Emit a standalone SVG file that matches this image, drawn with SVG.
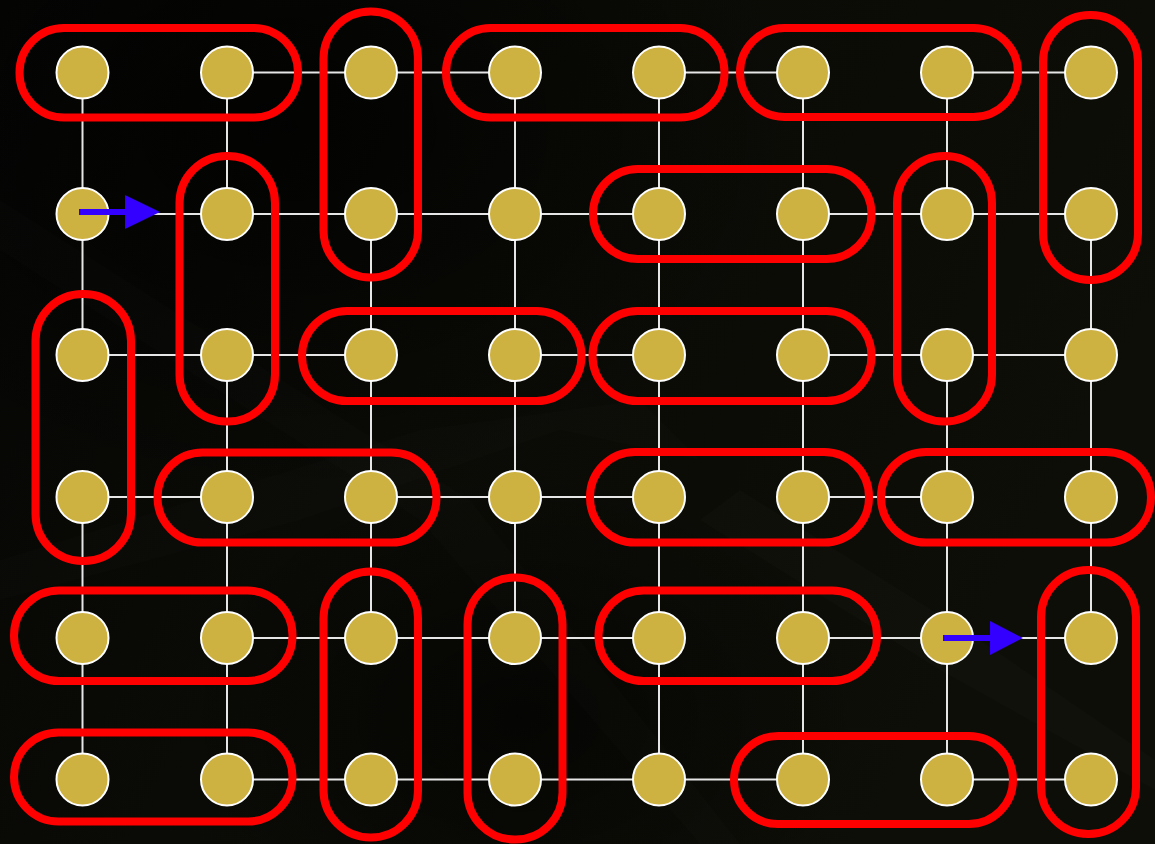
<svg xmlns="http://www.w3.org/2000/svg" width="1155" height="844" viewBox="0 0 1155 844">
<defs>
<linearGradient id="bg" x1="0" y1="0" x2="1" y2="0.4">
<stop offset="0" stop-color="#050504"/>
<stop offset="0.45" stop-color="#0a0a06"/>
<stop offset="1" stop-color="#0e0e08"/>
</linearGradient>
<radialGradient id="shade1" cx="0.25" cy="0.15" r="0.45">
<stop offset="0" stop-color="#000000" stop-opacity="0.7"/>
<stop offset="1" stop-color="#000000" stop-opacity="0"/>
</radialGradient>
<radialGradient id="shade2" cx="0.45" cy="0.85" r="0.3">
<stop offset="0" stop-color="#000000" stop-opacity="0.6"/>
<stop offset="1" stop-color="#000000" stop-opacity="0"/>
</radialGradient>
<style>
.edge{stroke:#e6e6e6;stroke-width:2;fill:none}
.node circle{fill:#cdb141;stroke:#ffffff;stroke-width:2}
.dom{fill:none;stroke:#ff0000;stroke-width:8}
.arr line{stroke:#3300ff;stroke-width:6}
.arr polygon{fill:#3300ff}
.streak{fill:#ffffff}
</style>
</defs>
<rect width="1155" height="844" fill="url(#bg)"/>
<g id="background-shading">
<rect width="1155" height="844" fill="url(#shade1)"/>
<rect width="1155" height="844" fill="url(#shade2)"/>
<polygon class="streak" opacity="0.012" points="0,200 0,250 420,520 700,844 740,844 470,500"/>
<polygon class="streak" opacity="0.012" points="0,560 0,600 300,520 560,430 700,460 640,400 420,430"/>
<polygon class="streak" opacity="0.015" points="700,520 740,490 980,640 1155,760 1155,790 940,670"/>
</g>
<g id="connectors">
<path class="edge" d="M227,72.5H371 M371,72.5H515 M659,72.5H803 M947,72.5H1091
M82.5,214H227 M227,214H371 M371,214H515 M515,214H659 M803,214H947 M947,214H1091
M82.5,355H227 M227,355H371 M515,355H659 M803,355H947 M947,355H1091
M82.5,497H227 M371,497H515 M515,497H659 M803,497H947
M227,638H371 M371,638H515 M515,638H659 M803,638H947 M947,638H1091
M227,779.5H371 M371,779.5H515 M515,779.5H659 M659,779.5H803 M947,779.5H1091
M82.5,72.5V214 M82.5,214V355 M82.5,497V638 M82.5,638V779.5
M227,72.5V214 M227,355V497 M227,497V638 M227,638V779.5
M371,214V355 M371,355V497 M371,497V638
M515,72.5V214 M515,214V355 M515,355V497 M515,497V638
M659,72.5V779.5
M803,72.5V779.5
M947,72.5V214 M947,355V497 M947,497V638 M947,638V779.5
M1091,214V355 M1091,355V497 M1091,497V638"/>
</g>
<g id="nodes">
<g id="n-0-0" class="node"><circle cx="82.5" cy="72.5" r="26"/></g>
<g id="n-0-1" class="node"><circle cx="227" cy="72.5" r="26"/></g>
<g id="n-0-2" class="node"><circle cx="371" cy="72.5" r="26"/></g>
<g id="n-0-3" class="node"><circle cx="515" cy="72.5" r="26"/></g>
<g id="n-0-4" class="node"><circle cx="659" cy="72.5" r="26"/></g>
<g id="n-0-5" class="node"><circle cx="803" cy="72.5" r="26"/></g>
<g id="n-0-6" class="node"><circle cx="947" cy="72.5" r="26"/></g>
<g id="n-0-7" class="node"><circle cx="1091" cy="72.5" r="26"/></g>
<g id="n-1-0" class="node"><circle cx="82.5" cy="214" r="26"/></g>
<g id="n-1-1" class="node"><circle cx="227" cy="214" r="26"/></g>
<g id="n-1-2" class="node"><circle cx="371" cy="214" r="26"/></g>
<g id="n-1-3" class="node"><circle cx="515" cy="214" r="26"/></g>
<g id="n-1-4" class="node"><circle cx="659" cy="214" r="26"/></g>
<g id="n-1-5" class="node"><circle cx="803" cy="214" r="26"/></g>
<g id="n-1-6" class="node"><circle cx="947" cy="214" r="26"/></g>
<g id="n-1-7" class="node"><circle cx="1091" cy="214" r="26"/></g>
<g id="n-2-0" class="node"><circle cx="82.5" cy="355" r="26"/></g>
<g id="n-2-1" class="node"><circle cx="227" cy="355" r="26"/></g>
<g id="n-2-2" class="node"><circle cx="371" cy="355" r="26"/></g>
<g id="n-2-3" class="node"><circle cx="515" cy="355" r="26"/></g>
<g id="n-2-4" class="node"><circle cx="659" cy="355" r="26"/></g>
<g id="n-2-5" class="node"><circle cx="803" cy="355" r="26"/></g>
<g id="n-2-6" class="node"><circle cx="947" cy="355" r="26"/></g>
<g id="n-2-7" class="node"><circle cx="1091" cy="355" r="26"/></g>
<g id="n-3-0" class="node"><circle cx="82.5" cy="497" r="26"/></g>
<g id="n-3-1" class="node"><circle cx="227" cy="497" r="26"/></g>
<g id="n-3-2" class="node"><circle cx="371" cy="497" r="26"/></g>
<g id="n-3-3" class="node"><circle cx="515" cy="497" r="26"/></g>
<g id="n-3-4" class="node"><circle cx="659" cy="497" r="26"/></g>
<g id="n-3-5" class="node"><circle cx="803" cy="497" r="26"/></g>
<g id="n-3-6" class="node"><circle cx="947" cy="497" r="26"/></g>
<g id="n-3-7" class="node"><circle cx="1091" cy="497" r="26"/></g>
<g id="n-4-0" class="node"><circle cx="82.5" cy="638" r="26"/></g>
<g id="n-4-1" class="node"><circle cx="227" cy="638" r="26"/></g>
<g id="n-4-2" class="node"><circle cx="371" cy="638" r="26"/></g>
<g id="n-4-3" class="node"><circle cx="515" cy="638" r="26"/></g>
<g id="n-4-4" class="node"><circle cx="659" cy="638" r="26"/></g>
<g id="n-4-5" class="node"><circle cx="803" cy="638" r="26"/></g>
<g id="n-4-6" class="node"><circle cx="947" cy="638" r="26"/></g>
<g id="n-4-7" class="node"><circle cx="1091" cy="638" r="26"/></g>
<g id="n-5-0" class="node"><circle cx="82.5" cy="779.5" r="26"/></g>
<g id="n-5-1" class="node"><circle cx="227" cy="779.5" r="26"/></g>
<g id="n-5-2" class="node"><circle cx="371" cy="779.5" r="26"/></g>
<g id="n-5-3" class="node"><circle cx="515" cy="779.5" r="26"/></g>
<g id="n-5-4" class="node"><circle cx="659" cy="779.5" r="26"/></g>
<g id="n-5-5" class="node"><circle cx="803" cy="779.5" r="26"/></g>
<g id="n-5-6" class="node"><circle cx="947" cy="779.5" r="26"/></g>
<g id="n-5-7" class="node"><circle cx="1091" cy="779.5" r="26"/></g>
</g>
<g id="dominoes">
<rect id="d1" class="dom" x="19.5" y="28" width="278.5" height="89.5" rx="44.5"/>
<rect id="d2" class="dom" x="323.5" y="11.5" width="94.5" height="266" rx="47"/>
<rect id="d3" class="dom" x="446" y="28" width="278.5" height="89.5" rx="44.5"/>
<rect id="d4" class="dom" x="740" y="28" width="278" height="89" rx="44.5"/>
<rect id="d5" class="dom" x="1043" y="15" width="95" height="265" rx="47"/>
<rect id="d6" class="dom" x="179.5" y="156" width="95.5" height="265.5" rx="47"/>
<rect id="d7" class="dom" x="593" y="169" width="278.5" height="90" rx="45"/>
<rect id="d8" class="dom" x="897" y="156" width="95" height="265.5" rx="47"/>
<rect id="d9" class="dom" x="35.5" y="294" width="95.5" height="267" rx="47"/>
<rect id="d10" class="dom" x="302" y="311" width="279.5" height="90" rx="45"/>
<rect id="d11" class="dom" x="592.5" y="311" width="279" height="90" rx="45"/>
<rect id="d12" class="dom" x="157.5" y="452.5" width="279" height="90" rx="45"/>
<rect id="d13" class="dom" x="590" y="452" width="279" height="90.5" rx="45"/>
<rect id="d14" class="dom" x="881" y="452" width="270" height="90.5" rx="45"/>
<rect id="d15" class="dom" x="14" y="590.5" width="278.5" height="90.5" rx="45"/>
<rect id="d16" class="dom" x="323.5" y="571.5" width="94.5" height="266" rx="47"/>
<rect id="d17" class="dom" x="467.5" y="577.5" width="95" height="262" rx="47"/>
<rect id="d18" class="dom" x="598.5" y="590.5" width="278.5" height="90.5" rx="45"/>
<rect id="d19" class="dom" x="1041" y="570" width="95" height="264" rx="47"/>
<rect id="d20" class="dom" x="14" y="732.5" width="278.5" height="89" rx="44.5"/>
<rect id="d21" class="dom" x="734" y="736" width="279" height="88" rx="44"/>
</g>
<g id="arrows">
<g id="arrow-1" class="arr"><line x1="79" y1="212" x2="128" y2="212"/><polygon points="125,195 160,212 125,229"/></g>
<g id="arrow-2" class="arr"><line x1="943" y1="638" x2="993" y2="638"/><polygon points="990,621 1023,638 990,655"/></g>
</g>
</svg>
